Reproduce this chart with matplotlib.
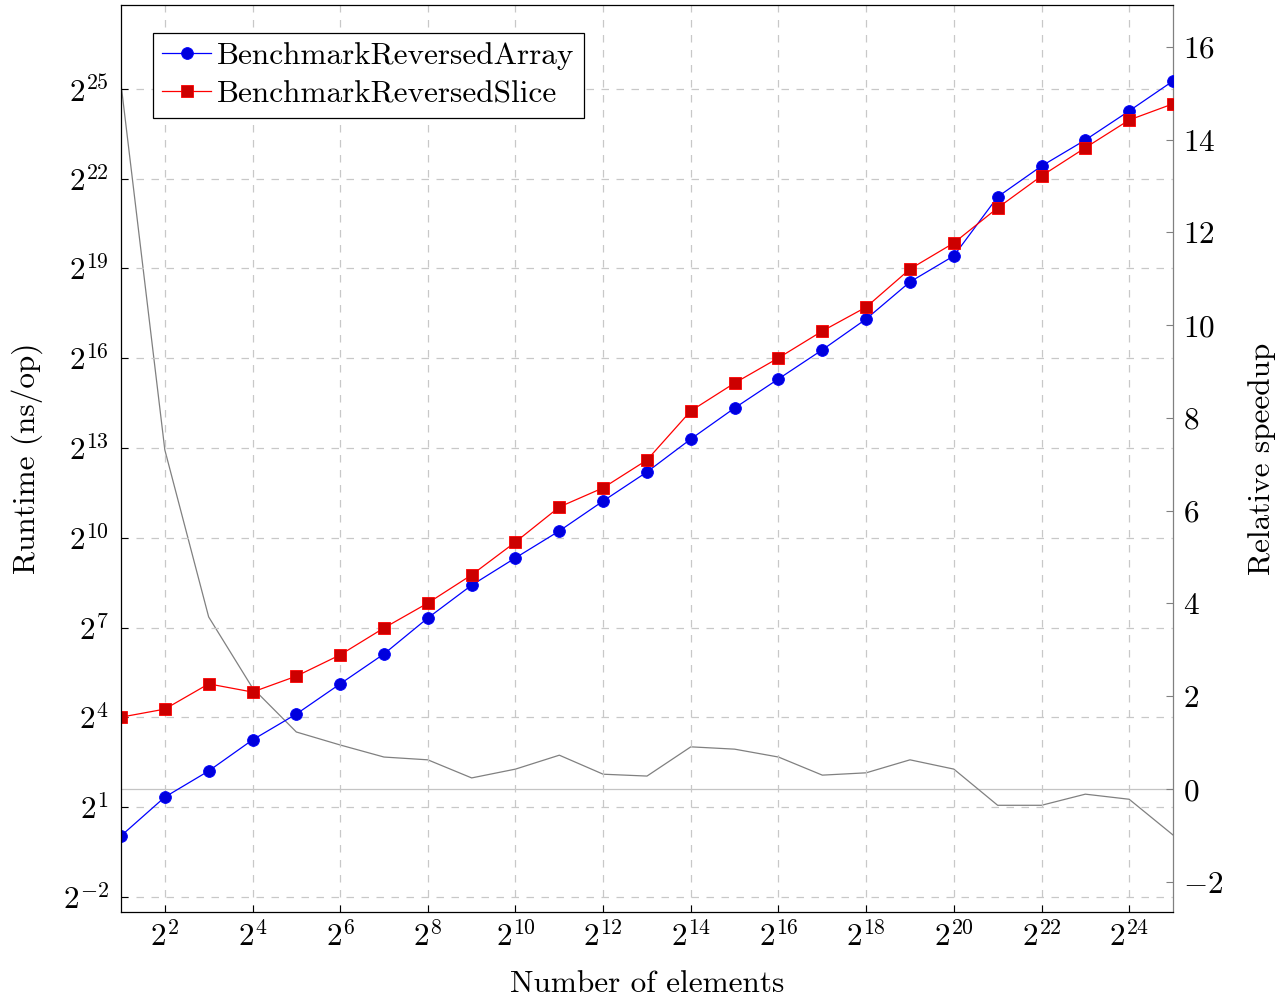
import matplotlib
matplotlib.use("Agg")
import matplotlib.pyplot as plt
from matplotlib.ticker import FixedLocator, FuncFormatter, NullLocator
import math

plt.rcParams["font.family"] = ["cmr10", "DejaVu Serif"]
plt.rcParams["mathtext.fontset"] = "cm"
plt.rcParams["axes.unicode_minus"] = False

# Número de elementos (2^1 ... 2^25)
elementos = [2, 4, 8, 16, 32, 64, 128, 256, 512, 1024, 2048, 4096, 8192,
             16384, 32768, 65536, 131072, 262144, 524288, 1048576, 2097152,
             4194304, 8388608, 16777216, 33554432]

# Tempo em ns/op
array_ns = [1.03, 2.53, 4.63, 9.51, 17.3, 34.8, 69.6, 160, 342, 644, 1201,
            2402, 4705, 10090, 20700, 40600, 79600, 162500, 383800, 701000,
            2750000, 5610000, 10260000, 20100000, 40200000]
slice_ns = [16.1, 19.4, 34.8, 28.8, 41.6, 68.1, 127, 226, 434, 929, 2091,
            3258, 6208, 19350, 36900, 66000, 123000, 214000, 517000, 945000,
            2130000, 4460000, 8570000, 16300000, 23700000]

# Speedup relativo (eixo da direita)
speedup = [15.2, 7.31, 3.71, 2.18, 1.23, 0.95, 0.69, 0.63, 0.24, 0.43, 0.73,
           0.32, 0.28, 0.91, 0.86, 0.69, 0.30, 0.35, 0.63, 0.43, -0.35, -0.35,
           -0.11, -0.22, -0.99]

fs = 22.5

fig = plt.figure(figsize=(12.83, 9.98), dpi=100)
ax = fig.add_axes([121/1283, 1-912/998, (1173-121)/1283, (912-5)/998])
ax2 = ax.twinx()

# eixo da direita atrás do principal
ax.set_zorder(ax2.get_zorder() + 1)
ax.patch.set_visible(False)

ax2.axhline(0, color="#c4c4c4", lw=0.9, zorder=1)
ax2.plot(elementos, speedup, color="#808080", lw=0.9)

ax.plot(elementos, array_ns, color="#0000ff", lw=0.9, marker="o",
        markersize=8.5, markerfacecolor="#0000dd", markeredgecolor="#0000ff",
        markeredgewidth=0.6, label="BenchmarkReversedArray")
ax.plot(elementos, slice_ns, color="#ff0000", lw=0.9, marker="s",
        markersize=8, markerfacecolor="#cc0000", markeredgecolor="#ff0000",
        markeredgewidth=0.6, label="BenchmarkReversedSlice")

ax.set_xscale("log", base=2)
ax.set_yscale("log", base=2)
ax.set_xlim(2, 2**25)
ax.set_ylim(2**-2.5, 2**27.8)
ax2.set_ylim(-2.65, 16.9)

ax.xaxis.set_major_locator(FixedLocator([2**k for k in range(2, 25, 2)]))
ax.yaxis.set_major_locator(FixedLocator([2**k for k in range(-2, 26, 3)]))
ax.xaxis.set_minor_locator(NullLocator())
ax.yaxis.set_minor_locator(NullLocator())

pot2 = FuncFormatter(lambda v, p: r"$2^{%d}$" % round(math.log2(v)))
ax.xaxis.set_major_formatter(pot2)
ax.yaxis.set_major_formatter(pot2)
ax2.yaxis.set_major_locator(FixedLocator(range(-2, 17, 2)))
ax2.yaxis.set_major_formatter(FuncFormatter(lambda v, p: r"$%d$" % v))

ax.grid(True, color="#c8c8c8", linestyle=(0, (6, 6)), lw=0.9)

ax.tick_params(axis="both", direction="in", length=5, labelsize=fs,
               top=False, right=False)
ax.tick_params(axis="x", pad=7)
ax.tick_params(axis="y", pad=9)
ax2.tick_params(axis="y", direction="in", length=5, labelsize=fs,
                color="#808080", pad=7)
for s in ["left", "bottom", "top"]:
    ax.spines[s].set_linewidth(0.9)
ax.spines["right"].set_visible(False)
ax2.spines["right"].set_color("#808080")
ax2.spines["right"].set_linewidth(0.9)
for s in ["left", "bottom", "top"]:
    ax2.spines[s].set_visible(False)

ax.set_xlabel("Number of elements", fontsize=fs, labelpad=12)
ax.set_ylabel("Runtime (ns/op)", fontsize=fs, labelpad=14)
ax2.set_ylabel("Relative speedup", fontsize=fs, labelpad=18)

leg = ax.legend(loc="upper left", bbox_to_anchor=(0.0304, 0.969),
                fontsize=fs, fancybox=False, framealpha=1,
                edgecolor="black", borderaxespad=0, handlelength=1.55,
                handletextpad=0.2, borderpad=0.3, labelspacing=0.32)
leg.get_frame().set_linewidth(0.9)

fig.savefig("out.png", dpi=100)
